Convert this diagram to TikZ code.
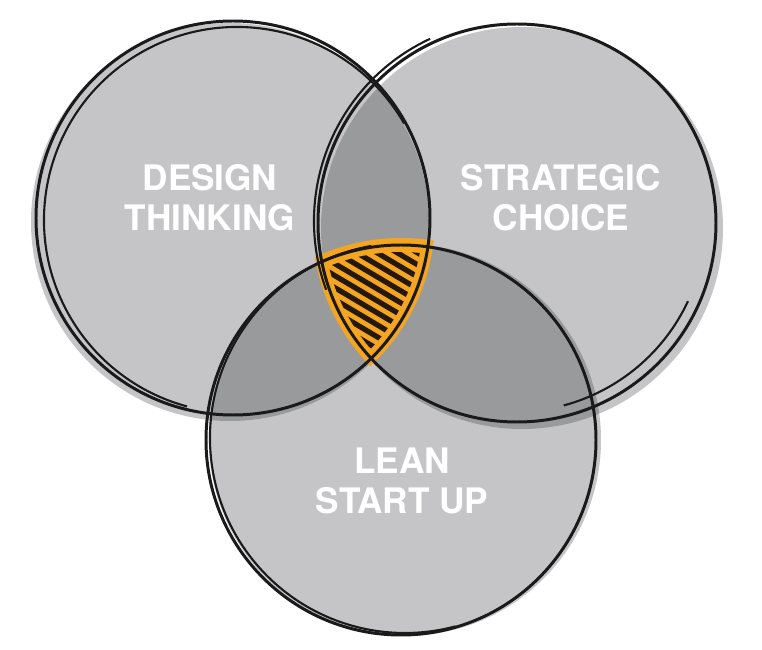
\documentclass[tikz,border=0pt]{standalone}
\usepackage{fontspec}
\newfontfamily\vennfont{TeX Gyre Heros}
\usetikzlibrary{calc}
\definecolor{VennShade}{HTML}{17191E}
\definecolor{VennOrange}{HTML}{F4A521}
\definecolor{Ink}{HTML}{1A1A1A}

\begin{document}
\begin{tikzpicture}[x=0.02cm,y=0.02cm,
    disc/.style={fill=VennShade,fill opacity=0.25},
    rim/.style={draw=Ink,line width=1.7pt},
    rimtwo/.style={draw=Ink,line width=1.2pt},
    hatch/.style={draw=black!85!VennOrange,line width=3pt,line cap=round},
    venntext/.style={text=white,align=center,font=\vennfont\bfseries\fontsize{20}{22.7}\selectfont}]
  \useasboundingbox (0,0) rectangle (762,650);

  \coordinate (dt) at (233,432);
  \coordinate (sc) at (517,427);
  \coordinate (ls) at (401,210);

  % grey discs, a bit off their rims
  \fill[disc] ($(dt)+(-3,-4)$) circle[radius=199];
  \fill[disc] ($(sc)+(5,-5)$) circle[radius=201];
  \fill[disc] ($(ls)+(4,0)$) circle[radius=196];

  % the part all three share
  \begin{scope}
    \clip (dt) circle[radius=202];
    \clip (sc) circle[radius=205];
    \fill[VennOrange] (ls) circle[radius=202];
    \clip (dt) circle[radius=190];
    \clip (sc) circle[radius=193];
    \clip (ls) circle[radius=188];
    \foreach \k in {0,...,11}
      \draw[hatch] (300,335+12*\k) -- (460,240+12*\k);
  \end{scope}

  % sketchy rims
  \draw[rim] (dt) circle[radius=197];
  \draw[rimtwo] ($(dt)+(4,-2)+(30:193)$) arc[start angle=30,end angle=255,radius=193];
  \draw[rim] (sc) circle[radius=199];
  \draw[rimtwo] ($(sc)+(-2,2)+(115:201)$) arc[start angle=115,end angle=200,radius=201];
  \draw[rimtwo] ($(sc)+(-3,3)+(285:192)$) arc[start angle=285,end angle=335,radius=192];
  \draw[rim] (ls) circle[radius=195];
  \draw[rimtwo] ($(ls)+(4,2)+(100:195)$) arc[start angle=100,end angle=285,radius=195];

  \node[venntext] (dtlabel) at (210,452) {DESIGN\\THINKING};
  \node[venntext] (sclabel) at (561,452) {STRATEGIC\\CHOICE};
  \node[venntext] (lslabel) at (402,169) {LEAN\\START UP};
\end{tikzpicture}
\end{document}
